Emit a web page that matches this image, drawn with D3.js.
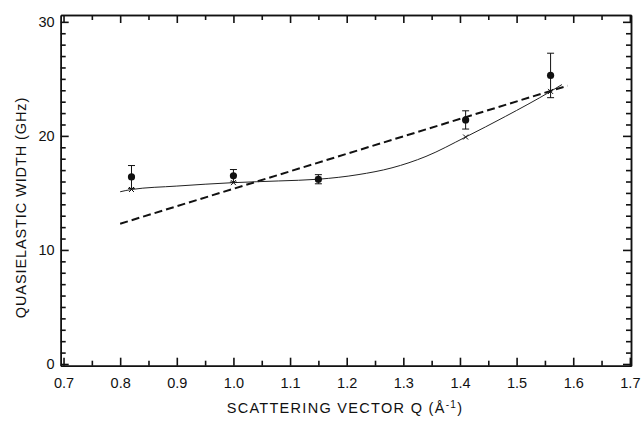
<!DOCTYPE html>
<html>
<head>
<meta charset="utf-8">
<script src="https://cdn.jsdelivr.net/npm/d3@7"></script>
<style>
  body { margin: 0; background: #fff; }
  svg { display: block; }
</style>
</head>
<body>
<div id="chart"></div>
<script>
// measured points with error bars
const qValues = [0.82, 1.00, 1.15, 1.41, 1.56];
const widths = [16.4, 16.5, 16.2, 21.4, 25.3];
const errors = [1.0, 0.55, 0.4, 0.8, 1.95];

// solid model curve
const fitQ = [0.80, 0.82, 0.90, 1.00, 1.08, 1.15, 1.22, 1.28, 1.34, 1.41, 1.48, 1.56, 1.58];
const fitW = [15.1, 15.3, 15.6, 15.9, 16.05, 16.2, 16.6, 17.2, 18.2, 19.9, 21.7, 23.9, 24.5];
const fitMarks = [15.3, 15.9, 16.2, 19.9, 23.9];

// dashed straight line
const lineQ = [0.80, 1.59];
const lineW = [12.3, 24.4];

const xTicks = [0.7, 0.8, 0.9, 1.0, 1.1, 1.2, 1.3, 1.4, 1.5, 1.6, 1.7];
const yTicks = [0, 10, 20, 30];

const W = 642, H = 421;
const mLeft = 60.7, mRight = 631, mTop = 15, mBottom = 365.7;
const font = "'Liberation Sans', Arial, sans-serif";

const svg = d3.select("#chart").append("svg")
    .attr("width", W).attr("height", H);

const x = d3.scaleLinear().domain([0.695, 1.702]).range([mLeft, mRight]);
const y = d3.scaleLinear().domain([-0.15, 30.6]).range([mBottom, mTop]);

const minorX = d3.range(0.75, 1.7, 0.1);
const minorY = d3.range(0, 31, 1).filter(v => v % 10 !== 0);

function styleAxis(g) {
    g.selectAll("path").attr("stroke", "#111").attr("stroke-width", 1.5);
    g.selectAll("line").attr("stroke", "#111").attr("stroke-width", 1.6);
    g.selectAll("text").style("font", `14.5px ${font}`).attr("fill", "#111");
}

// bottom
svg.append("g").attr("transform", `translate(0,${mBottom})`)
    .call(d3.axisBottom(x).tickValues(xTicks).tickSizeInner(-8).tickSizeOuter(0)
        .tickPadding(12).tickFormat(d3.format(".1f")))
    .call(styleAxis);
svg.append("g").attr("transform", `translate(0,${mBottom})`)
    .call(d3.axisBottom(x).tickValues(minorX).tickSizeInner(-5).tickSizeOuter(0).tickFormat(""))
    .call(styleAxis);
// top
svg.append("g").attr("transform", `translate(0,${mTop})`)
    .call(d3.axisTop(x).tickValues(xTicks).tickSizeInner(-8).tickSizeOuter(0).tickFormat(""))
    .call(styleAxis);
svg.append("g").attr("transform", `translate(0,${mTop})`)
    .call(d3.axisTop(x).tickValues(minorX).tickSizeInner(-5).tickSizeOuter(0).tickFormat(""))
    .call(styleAxis);
// left
svg.append("g").attr("transform", `translate(${mLeft},0)`)
    .call(d3.axisLeft(y).tickValues(yTicks).tickSizeInner(-8).tickSizeOuter(0).tickPadding(6))
    .call(styleAxis);
svg.append("g").attr("transform", `translate(${mLeft},0)`)
    .call(d3.axisLeft(y).tickValues(minorY).tickSizeInner(-5).tickSizeOuter(0).tickFormat(""))
    .call(styleAxis);
// right
svg.append("g").attr("transform", `translate(${mRight},0)`)
    .call(d3.axisRight(y).tickValues(yTicks).tickSizeInner(-8).tickSizeOuter(0).tickFormat(""))
    .call(styleAxis);
svg.append("g").attr("transform", `translate(${mRight},0)`)
    .call(d3.axisRight(y).tickValues(minorY).tickSizeInner(-5).tickSizeOuter(0).tickFormat(""))
    .call(styleAxis);

// axis titles
svg.append("text")
    .attr("x", 345).attr("y", 413)
    .attr("text-anchor", "middle")
    .style("font", `14.5px ${font}`).style("letter-spacing", "1.3px").attr("fill", "#111")
    .html("SCATTERING VECTOR Q (Å<tspan dy='-5' font-size='10'>-1</tspan><tspan dy='5'>)</tspan>");

svg.append("text")
    .attr("transform", `translate(26,${(97 + 318) / 2}) rotate(-90)`)
    .attr("text-anchor", "middle")
    .style("font", `14.5px ${font}`).style("letter-spacing", "0.9px").attr("fill", "#111")
    .text("QUASIELASTIC WIDTH (GHz)");

// dashed line
const line = d3.line().x(d => x(d[0])).y(d => y(d[1]));
svg.append("path")
    .datum(d3.zip(lineQ, lineW))
    .attr("d", line)
    .attr("fill", "none").attr("stroke", "#111")
    .attr("stroke-width", 2).attr("stroke-dasharray", "8,4");

// solid fit curve
svg.append("path")
    .datum(d3.zip(fitQ, fitW))
    .attr("d", line.curve(d3.curveMonotoneX))
    .attr("fill", "none").attr("stroke", "#222")
    .attr("stroke-width", 1);

// small crosses on fit curve
svg.selectAll(".mark")
    .data(d3.zip(qValues, fitMarks))
    .join("path")
    .attr("class", "mark")
    .attr("d", d => {
        const cx = x(d[0]), cy = y(d[1]);
        return `M${cx - 2.5},${cy - 2.5}L${cx + 2.5},${cy + 2.5}M${cx - 2.5},${cy + 2.5}L${cx + 2.5},${cy - 2.5}`;
    })
    .attr("stroke", "#111").attr("stroke-width", 1);

// error bars
const pts = qValues.map((q, i) => ({ q, w: widths[i], e: errors[i] }));
const eb = svg.selectAll(".eb").data(pts).join("g").attr("class", "eb")
    .attr("stroke", "#111").attr("stroke-width", 1);
eb.append("line")
    .attr("x1", d => x(d.q)).attr("x2", d => x(d.q))
    .attr("y1", d => y(d.w - d.e)).attr("y2", d => y(d.w + d.e));
eb.append("line")
    .attr("x1", d => x(d.q) - 3.5).attr("x2", d => x(d.q) + 3.5)
    .attr("y1", d => y(d.w + d.e)).attr("y2", d => y(d.w + d.e));
eb.append("line")
    .attr("x1", d => x(d.q) - 3.5).attr("x2", d => x(d.q) + 3.5)
    .attr("y1", d => y(d.w - d.e)).attr("y2", d => y(d.w - d.e));

svg.selectAll(".pt").data(pts).join("circle")
    .attr("class", "pt")
    .attr("cx", d => x(d.q)).attr("cy", d => y(d.w))
    .attr("r", 3.6).attr("fill", "#111");
</script>
</body>
</html>
